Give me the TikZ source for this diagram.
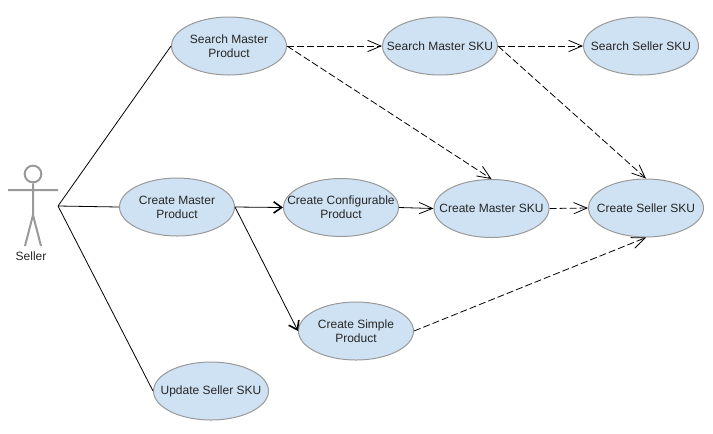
\documentclass[tikz,border=0pt]{standalone}
\usepackage{fontspec}
\setmainfont{Liberation Sans}
\usetikzlibrary{arrows.meta, positioning, shapes.geometric}
\definecolor{usefill}{HTML}{CFE2F3}
\definecolor{usedraw}{HTML}{999999}

\begin{document}
\begin{tikzpicture}[x=0.75pt, y=-0.75pt,
      every node/.style = {font=\fontsize{9}{10.5}\selectfont, text=black!85},
      usecase/.style = {ellipse, draw=usedraw, fill=usefill, line width=0.75pt,
                        minimum width=86.25pt, minimum height=43.5pt,
                        inner xsep=-12pt, inner ysep=0pt, align=center},
      actorline/.style = {draw=usedraw, line width=1.5pt},
      assoc/.style = {line width=0.6pt},
      depend/.style = {line width=0.6pt, dash pattern=on 5.25pt off 2.25pt,
                       -{Straight Barb[length=10pt, width=8.5pt, line width=0.6pt]}},
      flow/.style = {line width=0.6pt,
                     -{Straight Barb[length=10pt, width=8.5pt, line width=0.6pt]}},
      boldflow/.style = {line width=0.6pt,
                         -{Straight Barb[length=6pt, width=8.5pt, line width=1.2pt]}},
  node distance = 158.25pt]
  \useasboundingbox (0,0) rectangle (713,433);

  % actor
  \node[circle, draw=usedraw, line width=1.5pt, minimum size=12.5pt, inner sep=0pt] (head) at (33,174) {};
  \coordinate (armL) at (8,190);
  \coordinate (armR) at (58,190);
  \coordinate (hip) at (33,215);
  \coordinate (legL) at (25,246);
  \coordinate (legR) at (41,246);
  \coordinate (seller) at (58,206);
  \draw[actorline] (head.south) -- (hip) (armL) -- (armR) (legL) -- (hip) -- (legR);
  \node (sellerlabel) at (31,256) {Seller};

  % use cases
  \node[usecase] (smp) at (229,46) {Search Master\\Product};
  \node[usecase] (smsku) [right of=smp] {Search Master SKU};
  \node[usecase] (sssku) at (641,46) {Search Seller SKU};
  \node[usecase] (cmp) at (177,207) {Create Master\\Product};
  \node[usecase] (ccp) at (341,207.5) {Create Configurable\\Product};
  \node[usecase] (cmsku) at (491.5,208.5) {Create Master SKU};
  \node[usecase] (cssku) at (646,208) {Create Seller SKU};
  \node[usecase] (csp) at (356,331) {Create Simple\\Product};
  \node[usecase] (ussku) at (211,391) {Update Seller SKU};

  \draw[assoc] (seller) -- (smp.west);
  \draw[assoc] (seller) -- (cmp.west);
  \draw[assoc] (seller) -- (ussku.west);

  \path[boldflow] (cmp.east) edge (ccp.west)
                  (cmp.east) edge (csp.west);
  \path[flow] (ccp.east) edge (cmsku.west);
  \path[depend] (smp.east) edge (smsku.west)
                (smp.east) edge (cmsku.north)
                (smsku.east) edge (sssku.west)
                (smsku.east) edge (cssku.north)
                (cmsku.east) edge (cssku.west)
                (csp.east) edge (cssku.south);
\end{tikzpicture}
\end{document}
